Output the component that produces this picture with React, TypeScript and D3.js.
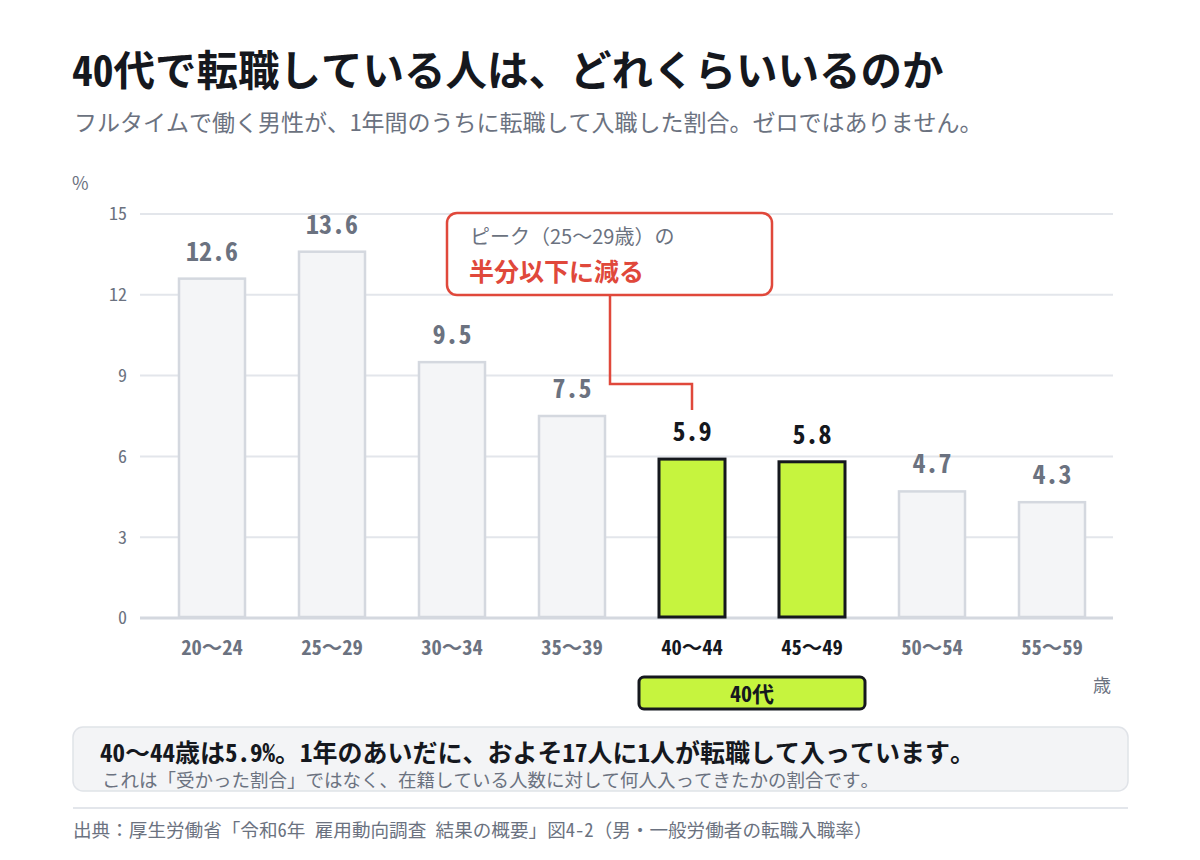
import * as d3 from 'd3'

const categories = ['20〜24', '25〜29', '30〜34', '35〜39', '40〜44', '45〜49', '50〜54', '55〜59']
const rates = [12.6, 13.6, 9.5, 7.5, 5.9, 5.8, 4.7, 4.3]
const highlighted = ['40〜44', '45〜49']
const yTicks = [0, 3, 6, 9, 12, 15]

const MONO = "'Noto Sans Mono CJK JP', 'DejaVu Sans Mono', monospace"
const SANS = "'Noto Sans CJK JP', 'Noto Sans', sans-serif"

const GRAY = '#6b7280'
const DARK = '#15181e'
const LIME = '#c6f43e'
const RED = '#e0483b'

export default function App() {
  const width = 1200
  const height = 860
  const plotLeft = 140
  const plotRight = 1113

  const x = d3.scaleBand<string>()
    .domain(categories)
    .range([152, 1112])
    .paddingInner(0.45)
    .paddingOuter(0.225)

  const y = d3.scaleLinear().domain([0, 15]).range([618, 214])

  const cx = (c: string) => (x(c) ?? 0) + x.bandwidth() / 2
  const peakIdx = categories.indexOf('40〜44')
  const leaderX = cx(categories[peakIdx])
  const leaderTop = y(rates[peakIdx])

  const groupStart = (x(highlighted[0]) ?? 0) - 20
  const groupEnd = (x(highlighted[highlighted.length - 1]) ?? 0) + x.bandwidth() + 20

  return (
    <div style={{ position: 'absolute', left: 0, top: 0, background: '#fff' }}>
      <svg width={width} height={height} style={{ display: 'block' }}>
        <rect width={width} height={height} fill="#ffffff" />

        {/* header */}
        <text x={72} y={86} fontFamily={MONO} fontWeight={700} fontSize={41.5} fill={DARK}>
          40代で転職している人は、どれくらいいるのか
        </text>
        <text x={74} y={131} fontFamily={MONO} fontSize={23} fill={GRAY}>
          フルタイムで働く男性が、1年間のうちに転職して入職した割合。ゼロではありません。
        </text>

        {/* y axis unit */}
        <text x={72} y={190} fontFamily={SANS} fontSize={18} fill={GRAY}>%</text>

        {/* gridlines + ticks */}
        {yTicks.map(t => (
          <g key={t}>
            <line x1={plotLeft} x2={plotRight} y1={y(t)} y2={y(t)}
              stroke={t === 0 ? '#d4d8df' : '#e3e6eb'} strokeWidth={t === 0 ? 3 : 2} />
            <text x={127} y={y(t)} dy="0.35em" textAnchor="end" fontFamily={MONO}
              fontSize={18} fill={GRAY}>{t}</text>
          </g>
        ))}

        {/* bars */}
        {categories.map((c, i) => {
          const hi = highlighted.includes(c)
          return (
            <g key={c}>
              <rect
                x={x(c)}
                y={y(rates[i])}
                width={x.bandwidth()}
                height={y(0) - y(rates[i]) - 1}
                fill={hi ? LIME : '#f4f5f7'}
                stroke={hi ? DARK : '#d4d8df'}
                strokeWidth={hi ? 3 : 2.5}
              />
              <text x={cx(c)} y={y(rates[i]) - 18} textAnchor="middle" fontFamily={MONO}
                fontWeight={700} fontSize={26} fill={hi ? DARK : GRAY}>
                {rates[i].toFixed(1)}
              </text>
              <text x={cx(c)} y={655} textAnchor="middle" fontFamily={MONO}
                fontWeight={700} fontSize={20.5} fill={hi ? DARK : GRAY}>
                {c}
              </text>
            </g>
          )
        })}

        {/* x unit */}
        <text x={1102} y={692} textAnchor="middle" fontFamily={SANS} fontSize={18} fill={GRAY}>歳</text>

        {/* 40代 group bracket */}
        <rect x={groupStart} y={677} width={groupEnd - groupStart} height={32} rx={5}
          fill={LIME} stroke={DARK} strokeWidth={3} />
        <text x={(groupStart + groupEnd) / 2} y={702} textAnchor="middle" fontFamily={MONO}
          fontWeight={700} fontSize={22} fill={DARK}>40代</text>

        {/* callout */}
        <path
          d={`M610,295 V${leaderTop - 75} H${leaderX} V${leaderTop - 49}`}
          fill="none" stroke={RED} strokeWidth={2.5}
        />
        <rect x={447} y={213} width={325} height={82} rx={10} fill="#ffffff" stroke={RED} strokeWidth={2.5} />
        <text x={470} y={244} fontFamily={SANS} fontSize={20} fill={GRAY}>ピーク（25〜29歳）の</text>
        <text x={469} y={281} fontFamily={SANS} fontWeight={700} fontSize={25} fill={RED}>半分以下に減る</text>

        {/* summary box */}
        <rect x={73} y={727} width={1055} height={64} rx={10} fill="#f3f4f6" stroke="#e0e3e8" strokeWidth={1.5} />
        <text x={100} y={762} fontFamily={MONO} fontWeight={700} fontSize={25} fill={DARK}>
          40〜44歳は5.9%。1年のあいだに、およそ17人に1人が転職して入っています。
        </text>
        <text x={102} y={787} fontFamily={MONO} fontSize={18.5} fill={GRAY}>
          これは「受かった割合」ではなく、在籍している人数に対して何人入ってきたかの割合です。
        </text>

        {/* footer */}
        <line x1={73} x2={1128} y1={808} y2={808} stroke="#e3e6eb" strokeWidth={2} />
        <text x={73} y={837} fontFamily={MONO} fontSize={18.6} fill={GRAY}>
          出典：厚生労働省「令和6年 雇用動向調査 結果の概要」図4-2（男・一般労働者の転職入職率）
        </text>
      </svg>
    </div>
  )
}
